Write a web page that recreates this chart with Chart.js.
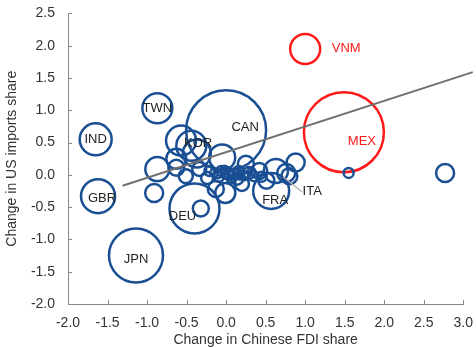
<!DOCTYPE html>
<html>
<head>
<meta charset="utf-8">
<script src="https://cdn.jsdelivr.net/npm/chart.js@4.4.1/dist/chart.umd.min.js"></script>
<style>
  html, body { margin: 0; padding: 0; background: #fff; }
  #wrap { width: 476px; height: 347px; }
</style>
</head>
<body>
<div id="wrap"><canvas id="fdi"></canvas></div>
<script>
// country codes ('' = unlabelled), change in Chinese FDI share, change in US imports share, bubble size
const countries = ['VNM', 'MEX', 'CAN', 'TWN', 'IND', 'GBR', 'JPN', 'DEU', 'FRA', 'KOR', 'ITA',
  '', '', '', '', '', '', '', '', '', '', '', '', '', '', '', '', '', '', '', '', '', '',
  '', '', '', '', '', '', '', '', '', '', '', '', '', '', '',
  '', '', '', '', '', '', '', ''];
const fdiChange = [1.00, 1.49, 0.00, -0.87, -1.65, -1.62, -1.14, -0.40, 0.57, -0.57, 0.76,
  1.55, 2.77, -0.44, -0.37, -0.05, -0.87, -0.91, -0.63, -0.63, -0.51, -0.34, -0.24, -0.13,
  -0.01, 0.25, 0.42, 0.51, 0.63, 0.88, 0.80, -0.32,
  -0.15, -0.06, 0.01, 0.10, 0.16, 0.23, 0.29, 0.06, -0.09, 0.35, -0.21, 0.14, 0.20, 0.04, -0.02,
  -0.02, 0.08, 0.12, 0.18, 0.26, 0.32, -0.11, 0.45];
const importsChange = [1.95, 0.66, 0.69, 1.03, 0.55, -0.33, -1.25, -0.52, -0.25, 0.53, 0.03,
  0.03, 0.03, 0.45, 0.33, 0.27, 0.09, -0.28, 0.25, 0.11, -0.02, 0.09, -0.05, -0.22,
  -0.28, 0.17, 0.06, -0.09, 0.06, 0.19, -0.02, -0.52,
  0.03, 0.06, 0.03, 0.02, 0.06, -0.02, 0.03, -0.06, -0.03, -0.02, 0.06, -0.06, -0.14, 0.00, 0.08,
  -0.01, 0.00, 0.04, -0.01, 0.00, 0.05, 0.01, -0.03];
const bubbleSize = [15, 40, 40, 15, 16, 17, 27, 25, 18, 15, 9,
  5, 9, 15, 14, 13, 12, 9, 10, 8, 7, 7, 6, 8,
  10, 8, 8, 8, 12, 9, 8, 8,
  4, 5, 6, 5, 5, 4, 6, 4, 5, 5, 5, 6, 7, 5, 4,
  3, 4, 3, 4, 3, 4, 4, 5];
const highlighted = ['VNM', 'MEX'];
// fitted line end points
const fitX = [-1.31, 3.12];
const fitY = [-0.17, 1.59];
const xTicks = [-2.0, -1.5, -1.0, -0.5, 0.0, 0.5, 1.0, 1.5, 2.0, 2.5, 3.0];
const yTicks = [-2.0, -1.5, -1.0, -0.5, 0.0, 0.5, 1.0, 1.5, 2.0, 2.5];

const BLUE = '#1a4f94';
const RED = '#ff1a1a';

// pixel nudges for the country labels
const labelOffset = {
  VNM: [41, 0], MEX: [18, 9], CAN: [19, -3], TWN: [0, 0], IND: [0, 0], GBR: [4, 2],
  JPN: [0, 4], DEU: [-12, 8], FRA: [4, 9], KOR: [17, 3], ITA: [26, 19]
};

const points = countries.map((c, i) => ({x: fdiChange[i], y: importsChange[i], r: bubbleSize[i]}));
const colors = countries.map(c => highlighted.includes(c) ? RED : BLUE);

const labelPlugin = {
  id: 'countryLabels',
  afterDatasetsDraw(chart) {
    const ctx = chart.ctx;
    const xs = chart.scales.x, ys = chart.scales.y;
    ctx.save();
    ctx.font = '13px "Liberation Sans", Arial, sans-serif';
    ctx.textAlign = 'center';
    ctx.textBaseline = 'middle';
    countries.forEach((c, i) => {
      if (!c) return;
      const px = xs.getPixelForValue(fdiChange[i]);
      const py = ys.getPixelForValue(importsChange[i]);
      const off = labelOffset[c] || [0, 0];
      if (c === 'ITA') {
        ctx.strokeStyle = '#b0b0b0';
        ctx.lineWidth = 1.2;
        ctx.beginPath();
        ctx.moveTo(px - 3, py + 4);
        ctx.lineTo(px + off[0] - 10, py + off[1]);
        ctx.stroke();
      }
      ctx.fillStyle = highlighted.includes(c) ? RED : '#222';
      ctx.fillText(c, px + off[0], py + off[1]);
    });
    ctx.restore();
  }
};

// short tick marks on the inside of both axes
const innerTicks = {
  id: 'innerTicks',
  afterDraw(chart) {
    const ctx = chart.ctx;
    const xs = chart.scales.x, ys = chart.scales.y;
    const a = chart.chartArea;
    ctx.save();
    ctx.strokeStyle = '#888';
    ctx.lineWidth = 1;
    ctx.beginPath();
    xTicks.forEach(v => {
      const p = Math.round(xs.getPixelForValue(v)) + 0.5;
      ctx.moveTo(p, a.bottom);
      ctx.lineTo(p, a.bottom - 4);
    });
    yTicks.forEach(v => {
      const p = Math.round(ys.getPixelForValue(v)) + 0.5;
      ctx.moveTo(a.left, p);
      ctx.lineTo(a.left + 4, p);
    });
    ctx.stroke();
    ctx.restore();
  }
};

const tickFont = {family: '"Liberation Sans", Arial, sans-serif', size: 14};

new Chart(document.getElementById('fdi'), {
  type: 'bubble',
  data: {
    datasets: [
      {
        type: 'line',
        data: fitX.map((x, i) => ({x: x, y: fitY[i]})),
        borderColor: '#707070',
        borderWidth: 2,
        pointRadius: 0,
        clip: false
      },
      {
        data: points,
        borderColor: colors,
        backgroundColor: 'rgba(0,0,0,0)',
        borderWidth: 2.5,
        clip: false
      }
    ]
  },
  options: {
    responsive: true,
    maintainAspectRatio: false,
    animation: false,
    events: [],
    layout: {autoPadding: false, padding: {top: 9, right: 5, left: 0, bottom: 0}},
    plugins: {
      legend: {display: false},
      tooltip: {enabled: false}
    },
    scales: {
      x: {
        type: 'linear',
        min: -2, max: 3,
        afterBuildTicks: s => { s.ticks = xTicks.map(v => ({value: v})); },
        afterFit: s => { s.height = 43; },
        grid: {display: false},
        border: {display: true, color: '#888'},
        ticks: {
          color: '#333', font: tickFont, padding: 3,
          maxRotation: 0, autoSkip: false,
          callback: v => v.toFixed(1)
        },
        title: {display: true, text: 'Change in Chinese FDI share', color: '#333', font: tickFont, padding: {top: 0, bottom: -2}}
      },
      y: {
        type: 'linear',
        min: -2, max: 2.5,
        afterBuildTicks: s => { s.ticks = yTicks.map(v => ({value: v})); },
        afterFit: s => { s.width = 68; },
        grid: {display: false},
        border: {display: true, color: '#888'},
        ticks: {
          color: '#333', font: tickFont, padding: 5,
          autoSkip: false,
          callback: v => v.toFixed(1)
        },
        title: {display: true, text: 'Change in US imports share', color: '#333', font: tickFont, padding: {top: 4, bottom: 0}}
      }
    }
  },
  plugins: [labelPlugin, innerTicks]
});
</script>
</body>
</html>
